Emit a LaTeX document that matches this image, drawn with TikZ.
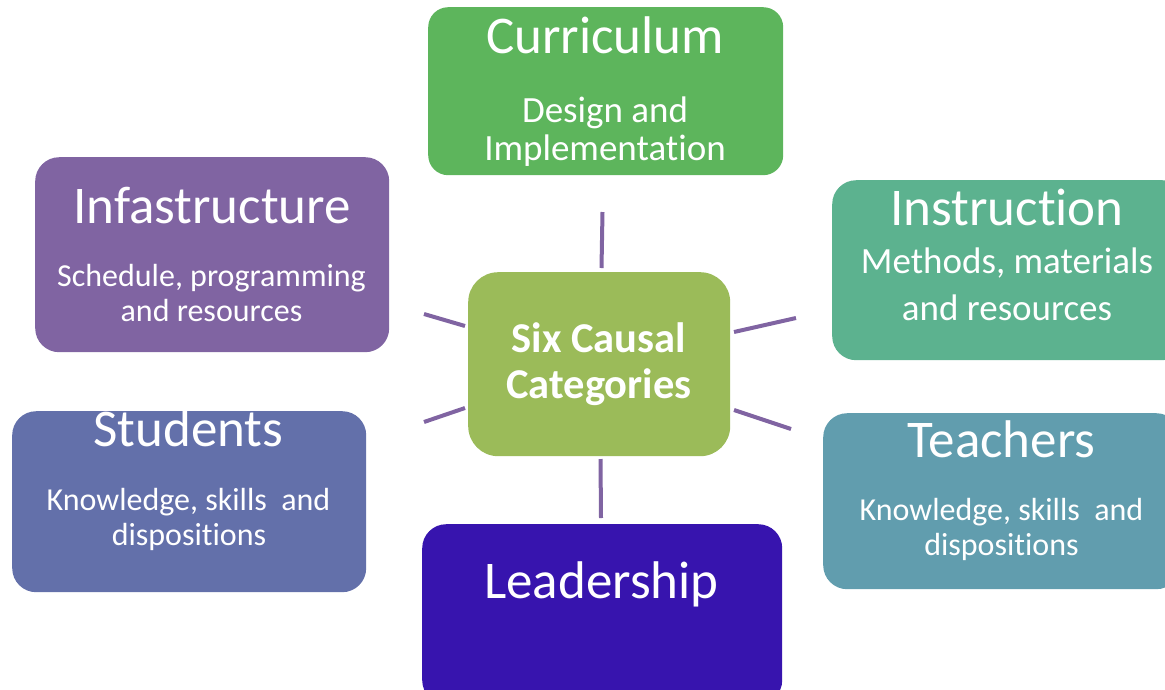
\documentclass[tikz,border=0pt]{standalone}
\usepackage{fontspec}
\setmainfont{Carlito}[Ligatures={NoCommon}]
\definecolor{cCurr}{HTML}{5DB55C}
\definecolor{cInfra}{HTML}{8064A2}
\definecolor{cInstr}{HTML}{5CB28F}
\definecolor{cStud}{HTML}{6370AA}
\definecolor{cTeach}{HTML}{619DAE}
\definecolor{cLead}{HTML}{3714AE}
\definecolor{cCenter}{HTML}{9BBB59}
\definecolor{cLine}{HTML}{8064A2}
\begin{document}
\begin{tikzpicture}[x=1pt,y=-1pt,
  box/.style={rectangle, rounded corners=24pt, draw=none, inner sep=0pt, anchor=north west},
  ttl/.style={text=white, anchor=base, inner sep=0pt, font=\fontsize{53}{53}\selectfont},
  sub/.style={text=white, anchor=base, inner sep=0pt, font=\fontsize{32}{32}\selectfont},
  subL/.style={text=white, anchor=base, inner sep=0pt, font=\fontsize{37}{37}\selectfont},
  ctr/.style={text=white, anchor=base, inner sep=0pt, font=\bfseries\fontsize{42.5}{42.5}\selectfont},
  spoke/.style={draw=cLine, line width=4pt}]
\useasboundingbox (0,0) rectangle (1165,689);
\clip (0,0) rectangle (1165,689);
% boxes
\node[box, rounded corners=20pt, fill=cCurr, minimum width=355pt, minimum height=168pt] (curr) at (428,7) {};
\node[box, fill=cInfra, minimum width=354pt, minimum height=195pt] (infra) at (35,157) {};
\node[box, fill=cInstr, minimum width=354pt, minimum height=180pt] (instr) at (832,180) {};
\node[box, fill=cStud, minimum width=354pt, minimum height=181pt] (stud) at (12,411) {};
\node[box, fill=cTeach, minimum width=357pt, minimum height=176pt] (teach) at (823,413) {};
\node[box, fill=cLead, minimum width=360pt, minimum height=180pt] (lead) at (422,524) {};
\node[box, rounded corners=30pt, fill=cCenter, minimum width=262pt, minimum height=184pt] (center) at (468,272) {};
% texts
\node[ttl] (currT) at (605,53) {Curriculum};
\node[subL] (currS1) at (605,122) {Design and};
\node[subL] (currS2) at (605,160) {Implementation};
\node[ttl] (infraT) at (212,223) {Infastructure};
\node[sub] (infraS1) at (211.5,286) {Schedule, programming};
\node[sub] (infraS2) at (211.5,321) {and resources};
\node[ttl] (instrT) at (1007,225) {Instruction};
\node[subL] (instrS1) at (1007,273) {Methods, materials};
\node[subL] (instrS2) at (1007,320) {and resources};
\node[ttl] (studT) at (188.5,446) {Students};
\node[sub] (studS1) at (188.5,510) {Knowledge, skills\ \ and};
\node[sub] (studS2) at (189,545) {dispositions};
\node[ttl] (teachT) at (1001.5,457) {Teachers};
\node[sub] (teachS1) at (1001.5,520) {Knowledge, skills\ \ and};
\node[sub] (teachS2) at (1001.5,555) {dispositions};
\node[ttl] (leadT) at (601.5,598) {Leadership};
\node[ctr] (ctrT1) at (599,352) {Six Causal};
\node[ctr] (ctrT2) at (599,398) {Categories};
% spokes
\coordinate (sTopA) at (602.5,212);
\coordinate (sTopB) at (601.5,268);
\coordinate (sBotA) at (600.5,459);
\coordinate (sBotB) at (601,518);
\coordinate (sULA) at (424,314);
\coordinate (sULB) at (465,326);
\coordinate (sLLA) at (424,422);
\coordinate (sLLB) at (465,408);
\coordinate (sURA) at (734,332);
\coordinate (sURB) at (796,318);
\coordinate (sLRA) at (734,410);
\coordinate (sLRB) at (791,429);
\draw[spoke] (sTopA) -- (sTopB);
\draw[spoke] (sBotA) -- (sBotB);
\draw[spoke] (sULA) -- (sULB);
\draw[spoke] (sLLA) -- (sLLB);
\draw[spoke] (sURA) -- (sURB);
\draw[spoke] (sLRA) -- (sLRB);
\end{tikzpicture}
\end{document}
